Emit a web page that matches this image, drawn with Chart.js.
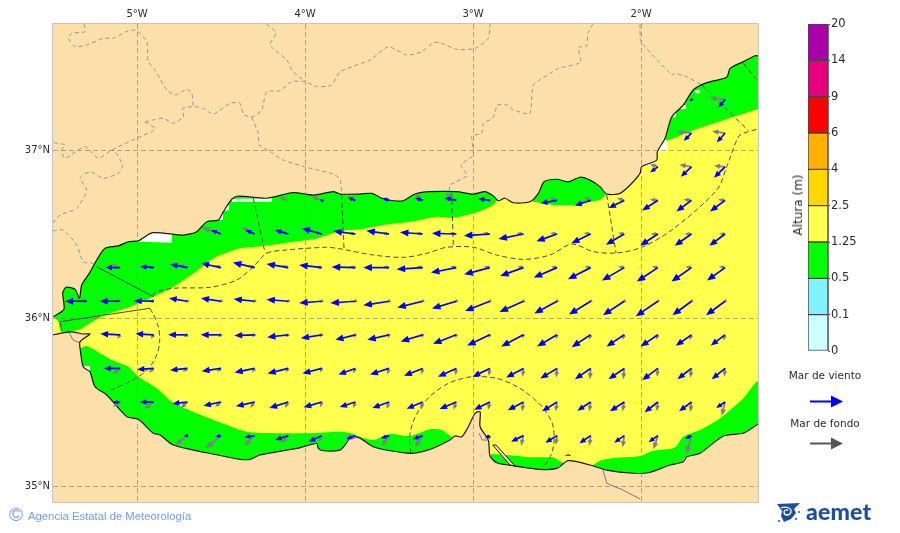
<!DOCTYPE html>
<html lang="es">
<head>
<meta charset="utf-8">
<title>Altura de ola</title>
<script src="https://cdn.jsdelivr.net/npm/chart.js@4"></script>
<style>
html,body{margin:0;padding:0;background:#fff;width:900px;height:533px;overflow:hidden}
canvas{position:absolute}
canvas,svg,.t{filter:blur(.3px)}
.t{position:absolute;font-family:"DejaVu Sans",sans-serif;color:#2b2b2b;white-space:nowrap}
</style>
</head>
<body>
<canvas id="map" width="900" height="533" style="left:0;top:0"></canvas>
<canvas id="bar" width="125" height="370" style="left:775px;top:0"></canvas>
<div class="t" id="alt" style="left:798px;top:205px;font-size:12px;transform:translate(-50%,-50%) rotate(-90deg)">Altura (m)</div>
<div class="t" style="left:825px;top:369px;font-size:10.5px;transform:translateX(-50%)">Mar de viento</div>
<div class="t" style="left:825px;top:417px;font-size:10.5px;transform:translateX(-50%)">Mar de fondo</div>
<svg style="position:absolute;left:805px;top:392px" width="42" height="60">
  <path d="M5 9.5H30" stroke="#0000ff" stroke-width="2"/><path d="M26 3.5L38 9.5L26 15.5Z" fill="#0000ff"/>
  <path d="M5 51.5H30" stroke="#555" stroke-width="2"/><path d="M26 45.5L38 51.5L26 57.5Z" fill="#555"/>
</svg>
<div class="t" style="left:9px;top:504px;font-family:'Liberation Sans';font-size:19px;color:#6f9fe6">©</div>
<div class="t" style="left:28px;top:510px;font-family:'Liberation Sans';font-size:11.3px;color:#6f9fe6">Agencia Estatal de Meteorología</div>
<svg style="position:absolute;left:776px;top:502px" width="28" height="22" viewBox="0 0 28 22">
  <path d="M1 2L24 1L18 7L20 11L15 17L8 20L5 14L6 9Z" fill="#1d4f9e"/>
  <path d="M5 6C10 4 16 6 15 10C14 14 8 14 8 10C8 8 11 7 12 9" stroke="#fff" stroke-width="1.3" fill="none"/>
  <circle cx="23" cy="10" r="1" fill="#1d4f9e"/><circle cx="20" cy="17" r="1" fill="#1d4f9e"/><circle cx="3" cy="19" r="1" fill="#1d4f9e"/>
</svg>
<div class="t" style="left:806px;top:497px;font-family:Lato,sans-serif;font-weight:900;font-size:23px;color:#1d4f9e;letter-spacing:.2px">aemet</div>

<script>
const lonTicks=[-5,-4,-3,-2];
const latTicks=[35,36,37];
const lonRange=[-5.5,-1.304];
const latRange=[34.905,37.75];

const coastNorth=[[-5.498,36.008],[-5.435,36.052],[-5.442,36.147],[-5.423,36.183],[-5.369,36.171],[-5.343,36.117],[-5.329,36.196],[-5.284,36.266],[-5.24,36.345],[-5.19,36.415],[-5.111,36.429],[-5.052,36.454],[-4.992,36.46],[-4.907,36.508],[-4.724,36.494],[-4.645,36.514],[-4.585,36.573],[-4.516,36.583],[-4.486,36.633],[-4.436,36.707],[-4.397,36.726],[-4.228,36.713],[-4.07,36.746],[-3.951,36.732],[-3.832,36.752],[-3.792,36.738],[-3.673,36.738],[-3.603,36.742],[-3.543,36.713],[-3.474,36.698],[-3.415,36.698],[-3.345,36.738],[-3.256,36.752],[-3.097,36.752],[-2.998,36.738],[-2.929,36.752],[-2.879,36.726],[-2.849,36.698],[-2.81,36.713],[-2.76,36.686],[-2.661,36.692],[-2.611,36.742],[-2.577,36.811],[-2.502,36.826],[-2.433,36.811],[-2.363,36.838],[-2.304,36.821],[-2.244,36.782],[-2.204,36.738],[-2.125,36.742],[-2.065,36.792],[-2.006,36.861],[-1.996,36.901],[-1.907,36.94],[-1.903,36.99],[-1.857,37.07],[-1.817,37.198],[-1.748,37.268],[-1.689,37.357],[-1.609,37.401],[-1.49,37.433],[-1.47,37.486],[-1.391,37.526],[-1.321,37.561],[-1.304,37.56]];
const northCorners=[[-1.304,37.75],[-5.5,37.75],[-5.5,36.012]];

const coastSouth=[[-5.5,35.899],[-5.458,35.909],[-5.389,35.918],[-5.32,35.905],[-5.28,35.905],[-5.339,35.859],[-5.339,35.82],[-5.32,35.71],[-5.28,35.68],[-5.25,35.591],[-5.18,35.542],[-5.061,35.413],[-4.992,35.397],[-4.903,35.314],[-4.863,35.304],[-4.784,35.244],[-4.585,35.198],[-4.387,35.159],[-4.327,35.159],[-4.268,35.185],[-4.049,35.224],[-3.93,35.254],[-3.921,35.224],[-3.891,35.21],[-3.792,35.214],[-3.762,35.244],[-3.732,35.284],[-3.683,35.29],[-3.593,35.234],[-3.494,35.21],[-3.365,35.195],[-3.256,35.218],[-3.137,35.274],[-3.107,35.298],[-3.067,35.293],[-3.028,35.353],[-2.988,35.433],[-2.958,35.442],[-2.958,35.353],[-2.909,35.274],[-2.899,35.179],[-2.859,35.139],[-2.75,35.119],[-2.601,35.099],[-2.502,35.105],[-2.433,35.151],[-2.304,35.125],[-2.204,35.095],[-2.046,35.076],[-1.957,35.079],[-1.827,35.125],[-1.748,35.145],[-1.728,35.174],[-1.649,35.195],[-1.51,35.298],[-1.391,35.314],[-1.321,35.357],[-1.304,35.369]];
const southCorners=[[-1.304,34.905],[-5.5,34.905],[-5.5,35.899]];
const spit=[[-2.883,35.244],[-2.863,35.244],[-2.75,35.119],[-2.78,35.125]];
const islet=[[-2.448,35.18],[-2.433,35.186],[-2.42,35.18]];

const greenNorth=[[-5.5,36.012],[-5.488,35.998],[-5.468,35.978],[-5.448,35.918],[-5.339,35.933],[-5.299,35.958],[-5.19,36.018],[-5.042,36.067],[-4.903,36.127],[-4.784,36.186],[-4.665,36.266],[-4.546,36.355],[-4.387,36.415],[-4.248,36.429],[-4.07,36.454],[-3.93,36.474],[-3.792,36.518],[-3.673,36.528],[-3.534,36.554],[-3.375,36.573],[-3.216,36.603],[-3.117,36.597],[-2.998,36.623],[-2.899,36.662],[-2.857,36.702],[-2.857,36.881],[-5.5,36.881]];
const greenBulge=[[-2.643,36.692],[-2.522,36.673],[-2.403,36.673],[-2.244,36.702],[-2.204,36.738],[-2.204,36.881],[-2.643,36.881]];
const greenNE=[[-1.304,37.244],[-1.451,37.198],[-1.689,37.119],[-1.847,37.054],[-1.946,37.179],[-1.649,37.595],[-1.304,37.595]];
const greenSW=[[-5.339,35.82],[-5.299,35.833],[-5.151,35.75],[-5.052,35.71],[-4.992,35.651],[-4.883,35.582],[-4.793,35.502],[-4.645,35.433],[-4.466,35.363],[-4.347,35.323],[-4.149,35.314],[-3.99,35.314],[-3.792,35.323],[-3.732,35.315],[-3.673,35.293],[-3.595,35.274],[-3.494,35.31],[-3.375,35.298],[-3.256,35.338],[-3.186,35.333],[-3.127,35.293],[-3.107,35.298],[-3.107,35.244],[-3.792,35.095],[-4.387,35.036],[-5.22,35.393],[-5.369,35.78]];
const greenBay=[[-2.893,35.19],[-2.78,35.183],[-2.661,35.171],[-2.522,35.171],[-2.462,35.135],[-2.433,35.151],[-2.433,35.065],[-2.899,35.065]];
const greenSE=[[-2.433,35.151],[-2.405,35.151],[-2.293,35.125],[-2.244,35.151],[-2.167,35.167],[-2.006,35.179],[-1.929,35.21],[-1.798,35.23],[-1.75,35.293],[-1.649,35.333],[-1.53,35.403],[-1.391,35.522],[-1.304,35.621],[-1.304,35.274],[-1.649,35.036],[-2.244,35.006],[-2.433,35.065]];

const noData1=[[-4.992,36.454],[-4.907,36.512],[-4.792,36.5],[-4.792,36.448]];
const noData2=[[-4.518,36.583],[-4.488,36.673],[-4.452,36.673],[-4.452,36.643],[-4.488,36.637],[-4.488,36.583]];
const noData3=[[-4.436,36.708],[-4.198,36.714],[-4.198,36.692],[-4.31,36.692],[-4.435,36.69]];
const noDataCells=[[-1.679,37.357,-1.649,37.338],[-1.768,37.268,-1.732,37.244],[-1.811,37.22,-1.792,37.195],[-1.887,37.06,-1.847,36.99],[-1.958,36.923,-1.929,36.905],[-2.012,36.893,-1.996,36.845],[-5.32,35.714,-5.28,35.686],[-1.75,35.167,-1.728,35.145]];

const zoneSolid1=[[-5.24,36.305],[-4.903,36.127]];
const zoneSolid2=[[-5.446,35.923],[-5.458,35.978],[-4.923,36.058]];
const zoneArc=[[-4.923,36.058],[-4.887,35.988],[-4.867,35.911],[-4.873,35.81],[-4.923,35.71],[-4.992,35.651],[-5.101,35.595],[-5.18,35.561]];
const zoneOffshore=[[-4.903,36.127],[-4.893,36.151],[-4.784,36.177],[-4.565,36.183],[-4.407,36.226],[-4.308,36.305],[-4.228,36.385],[-4.109,36.405],[-3.871,36.421],[-3.792,36.412],[-3.593,36.375],[-3.415,36.361],[-3.276,36.385],[-3.157,36.421],[-2.998,36.421],[-2.859,36.375],[-2.701,36.349],[-2.542,36.375],[-2.412,36.44],[-2.284,36.395],[-2.145,36.387],[-1.996,36.421],[-1.817,36.524],[-1.549,36.762],[-1.49,36.901],[-1.421,37.079],[-1.391,37.099],[-1.304,37.125]];
const zoneCross1=[[-4.308,36.714],[-4.244,36.415],[-4.228,36.385]];
const zoneCross2=[[-3.782,36.732],[-3.768,36.415]];
const zoneCross3=[[-3.128,36.75],[-3.117,36.421]];
const zoneCross4=[[-2.204,36.732],[-2.149,36.387]];
const zoneCross5=[[-1.639,37.387],[-1.361,37.115]];
const zoneCross6=[[-1.391,37.516],[-1.304,37.407]];
const zoneCircle=[[-3.371,35.195],[-3.375,35.314],[-3.315,35.462],[-3.196,35.582],[-3.058,35.641],[-2.939,35.651],[-2.799,35.621],[-2.641,35.522],[-2.542,35.403],[-2.518,35.304],[-2.532,35.195],[-2.585,35.105]];

const adminA=[[-5.314,37.75],[-5.31,37.704],[-5.389,37.695],[-5.409,37.665],[-5.369,37.615],[-5.299,37.625],[-5.201,37.665],[-5.141,37.665],[-5.052,37.71],[-5.002,37.71],[-4.942,37.645],[-4.933,37.526],[-4.893,37.476],[-4.823,37.357],[-4.774,37.327],[-4.704,37.361],[-4.674,37.338],[-4.665,37.258]];
const adminB=[[-4.952,37.168],[-4.903,37.179],[-4.843,37.189],[-4.784,37.159],[-4.724,37.198],[-4.728,37.248],[-4.655,37.258],[-4.605,37.248],[-4.546,37.213],[-4.446,37.278],[-4.387,37.278],[-4.367,37.214],[-4.317,37.195],[-4.258,37.238],[-4.228,37.347],[-4.149,37.353],[-4.079,37.407],[-4,37.407],[-3.93,37.377],[-3.841,37.387],[-3.792,37.466],[-3.613,37.536],[-3.504,37.615],[-3.395,37.565],[-3.305,37.585],[-3.236,37.639],[-3.196,37.639],[-3.097,37.599],[-2.988,37.605],[-2.909,37.665],[-2.899,37.75]];
const adminC=[[-4.952,37.168],[-4.893,37.129],[-4.913,37.109],[-5.002,37.07],[-5.151,37],[-5.23,36.951],[-5.31,37.02],[-5.429,36.951],[-5.448,37],[-5.429,37.03],[-5.488,37.043],[-5.5,37.042]];
const adminD=[[-5.5,36.565],[-5.458,36.613],[-5.359,36.653],[-5.299,36.762],[-5.339,36.832],[-5.28,36.871],[-5.201,36.832],[-5.111,36.861],[-5.085,36.911],[-5.131,36.99],[-5.151,37]];
const adminE=[[-5.5,36.518],[-5.439,36.524],[-5.359,36.435],[-5.32,36.335],[-5.26,36.326]];
const adminF=[[-4.228,37.75],[-4.173,37.698],[-4.208,37.625],[-4.109,37.536],[-4.079,37.476],[-4,37.407]];
const adminG=[[-4.317,37.195],[-4.278,37.099],[-4.272,37.03],[-4.208,36.99],[-4.129,36.94],[-3.99,36.897],[-3.832,36.857],[-3.792,36.827],[-3.782,36.744]];
const adminH=[[-2.287,37.75],[-2.317,37.695],[-2.323,37.619],[-2.373,37.611],[-2.359,37.52],[-2.492,37.486],[-2.641,37.387],[-2.661,37.214],[-2.76,37.238],[-2.796,37.268],[-2.855,37.268],[-2.883,37.189],[-2.939,37.159],[-2.948,37.099],[-3.008,37.083],[-2.998,36.97],[-3.073,36.911],[-3.034,36.847],[-3.137,36.792],[-3.141,36.752]];
const adminI=[[-2.006,37.75],[-2.002,37.645],[-1.817,37.446],[-1.798,37.457],[-1.728,37.436],[-1.639,37.387]];
const borderJ=[[-5.411,35.929],[-5.381,35.869],[-5.339,35.851]];
const borderK=[[-2.964,35.315],[-2.946,35.274],[-2.911,35.274]];
const borderL=[[-2.226,35.095],[-2.204,35.016],[-2.107,34.976],[-2.006,34.923]];

const waveLons=[-5.3,-5.1,-4.9,-4.7,-4.5,-4.3,-4.1,-3.9,-3.7,-3.5,-3.3,-3.1,-2.9,-2.7,-2.5,-2.3,-2.1,-1.9,-1.7,-1.5];
const waveLats=[37.3,37.1,36.9,36.7,36.5,36.3,36.1,35.9,35.7,35.5,35.3];
const N=null;
const windU=[
[N,N,N,N,N,N,N,N,N,N,N,N,N,N,N,N,N,N,-2,-6.7],
[N,N,N,N,N,N,N,N,N,N,N,N,N,N,N,N,N,N,-7.7,-8.3],
[N,N,N,N,N,N,N,N,N,N,N,N,N,N,N,N,N,-7.7,-10.7,-11],
[N,N,N,N,N,N,N,-2,-8,-6.7,-7.7,-12,-11.7,N,-16.7,-16,-15.7,-15.7,-15,-15],
[N,N,N,N,-10,-9,-13.3,-20,-22,-22.7,-22.7,-24.3,-26,-25,-20.7,-19.3,-18.3,-17.7,-16.7,-15.7],
[N,-15,-14,-17.3,-20,-21.7,-21.7,-22.7,-23.7,-25.7,-26,-25.3,-25.7,-23.3,-23.3,-22.7,-22.3,-21,-20,-18],
[-21.7,-20.7,-20,-18.3,-20,-21,-21.7,-22.7,-25,-25.7,-25.3,-24.3,-24.7,-24,-22.7,-21.7,-21.3,-22,-19,-19],
[N,-20,-18.3,-19.3,-20.3,-20.3,-21,-21,-20,-21.7,-22,-23.3,-22.7,-22.3,-20,-19,-17.7,-17.3,-15.7,-14.3],
[N,-16.7,-16.7,-17.3,-19.3,-20,-20.7,-19.3,-17,-19,-18.7,-18.3,-17.3,-17.3,-16.7,-15.7,-15.7,-15.7,-14,-13.3],
[N,-7.3,-14,-15,-17.7,-18.7,-19,-18.3,-15.7,-16.7,-16,-16.7,-15.7,-15.7,-15,-13.3,-14.3,-13.3,-12.3,-9],
[N,N,N,-4,-6,-10.3,-13.3,-13.3,-9.7,-8.3,-10,N,-5,-12.3,-11.7,-11.3,-10,-9.3,-6.7,N]
];
const windV=[
[N,N,N,N,N,N,N,N,N,N,N,N,N,N,N,N,N,N,-2,-8],
[N,N,N,N,N,N,N,N,N,N,N,N,N,N,N,N,N,N,-7.7,-9.3],
[N,N,N,N,N,N,N,N,N,N,N,N,N,N,N,N,N,-5.7,-10,-11],
[N,N,N,N,N,N,N,1,3.3,2.3,2.3,2.3,1.7,N,-2.7,-5,-7.7,-10,-11,-11],
[N,N,N,N,4,4,4,5.7,3,3.3,1.7,.7,-1.7,-5,-7.3,-9.3,-10.7,-11.7,-11.7,-11.7],
[N,0,1,3.3,4.3,5,3.7,2.7,.7,0,-1.7,-5,-6.7,-8.3,-10,-11.7,-13,-14,-14,-13],
[0,0,.3,3,3,2.3,1.7,-1.7,-1.7,-4,-6.3,-7.3,-9.7,-10.7,-12.3,-13.3,-14,-15,-14,-14],
[N,1,1,0,0,-.7,-2.3,-3.3,-5,-5,-6.7,-9,-10.7,-11.7,-11.7,-12.3,-11.7,-11.7,-11,-10.7],
[N,0,-1,-1.7,-2.7,-4,-5,-5,-6,-6,-7.3,-8.3,-8.3,-9,-10,-10.7,-10.7,-11.7,-10.7,-10.7],
[N,0,0,-1.7,-3.7,-4.3,-6,-5.3,-5,-6,-6.7,-7,-7.7,-8.3,-9.3,-8.7,-9.3,-10.3,-9.3,-6],
[N,N,N,0,-1,-1.7,-4.3,-6,-3.3,-2.7,-3.7,N,-2.7,-6,-7,-7.7,-7,-6.7,-3.3,N]
];
const swellU=[
[N,N,N,N,N,N,N,N,N,N,N,N,N,N,N,N,N,N,N,-15.7],
[N,N,N,N,N,N,N,N,N,N,N,N,N,N,N,N,N,N,-15,-13],
[N,N,N,N,N,N,N,N,N,N,N,N,N,N,N,N,N,-8,-12,-11],
[N,N,N,N,N,N,-9,-10,-6,-4,-7.7,-11,-3,N,-7.3,-6.7,-7,-8,-8,-7],
[N,N,N,N,-19.3,-13,-8,-8,-7,-7,-7,-7,-7,-7,-7,-7,-6,-7,-7,-6],
[N,-10,-6,-9,-6,-6,-6,-6,-6,-6,-6,-6,-6,-6,-6,-6,-6,-6,-6,-6],
[-6,-6,-5,-2,-2,-2,-2,-2,-2,-2,-2,-2,-2,-2,-2,-2,-2,-2,-2,-2],
[N,-3,-3.3,-3.3,-2.7,-2.5,-2.7,-2,-1.5,-.7,-.7,-.7,-1,-1,-1.2,-1.5,-1.7,-1.7,-1.7,-1.7],
[N,-7.3,-5,-5,-4.3,-2.7,-2.7,-1.7,-2.3,-1.7,-1,-.7,-1,-.7,-.7,-.7,-1,-.7,-1,-.7],
[N,-7.3,-9.3,-6.7,-6,-4.3,-3.3,-1.7,-2.3,-2.3,-1.7,-2.7,-1.7,-1.3,-1.3,-1.3,-1.7,-1,-1,-3.3],
[N,N,N,-12.3,-15.3,-10.3,-6.7,-3.3,-4,-7.3,-7.7,N,-2,-2.3,-1.3,-1.3,-1.7,-4.3,-5,N]
];
const swellV=[
[N,N,N,N,N,N,N,N,N,N,N,N,N,N,N,N,N,N,N,1.7],
[N,N,N,N,N,N,N,N,N,N,N,N,N,N,N,N,N,N,1.7,2],
[N,N,N,N,N,N,N,N,N,N,N,N,N,N,N,N,N,2.5,2,1],
[N,N,N,N,N,N,3.3,4,2,2,6.7,7.3,1,N,3.3,3.3,2.3,1,1,1],
[N,N,N,N,6.7,6.7,3,2,1,1,1,1,1,1,1,1,1,0,0,0],
[N,3,1,3,2,2,2,1,1,1,1,1,1,1,1,1,1,1,1,1],
[1,1,0,-1.5,-1.5,-1.5,-1.5,-1.5,-1.5,-1.5,-1.5,-1.5,-1.5,-1.5,-1.5,-1.5,-1.5,-1.5,-1.5,-1.5],
[N,-4,-4,-2.3,-2.3,-2.3,-2.3,-2.3,-3,-3.3,-3.3,-3.5,-3.5,-4,-4.5,-5,-5,-5,-5.5,-5.7],
[N,-5.7,-4,-3.3,-3.3,-4.3,-4,-4,-5,-6,-6,-6.7,-7.3,-8.3,-9,-10.7,-10.7,-8.3,-9.3,-8.3],
[N,-4.7,-6.7,-6,-5,-6,-6,-5.3,-6,-7,-7.7,-7.7,-7.7,-9.3,-9.3,-9.3,-9.3,-9.3,-10,-13.7],
[N,N,N,-9.3,-12.7,-10,-7.7,-6,-4,-10.3,-11.7,N,-5,-10,-9.3,-10,-11.7,-13.7,-18.3,N]
];

const levels=['0','0.1','0.5','1.25','2.5','4','6','9','14','20'];
const bandColors=['#ccffff','#80f3ff','#00ff00','#ffff4d','#ffd700','#ffb000','#ff0000','#e6007e','#aa00aa'];

const LAND='#fcdfa9',SEA='#ffff4d',GREEN='#00ff00',WHITE='#ffffff';
const pts=a=>a.map(p=>({x:p[0],y:p[1]}));
const poly=(a,color,tension)=>({data:pts(a),showLine:true,fill:'shape',backgroundColor:color,borderWidth:0,pointRadius:0,tension:tension||0});
const line=(a,color,width,dash,tension)=>({data:pts(a),showLine:true,fill:false,borderColor:color,borderWidth:width,borderDash:dash||[],pointRadius:0,tension:tension||0});
const cell=c=>[[c[0],c[1]],[c[2],c[1]],[c[2],c[3]],[c[0],c[3]]];
function arrowSet(U,V,kind){
  const data=[];
  waveLats.forEach((lat,r)=>waveLons.forEach((lon,c)=>{
    if(U[r][c]!==null) data.push({x:lon,y:lat,u:U[r][c],v:V[r][c]});
  }));
  return {data,pointRadius:0,showLine:false,arrowKind:kind};
}
const ADMIN='#9492a6',ZONE='#4a4a4a',Z=[5,3],A=[4,3],COAST='#1a1a1a',SOFT=.25;
const layers=[
  poly(greenNorth,GREEN,SOFT),poly(greenBulge,GREEN),poly(greenNE,GREEN),poly(greenSW,GREEN,SOFT),poly(greenBay,GREEN),poly(greenSE,GREEN,SOFT),
  poly(noData1,WHITE),poly(noData2,WHITE),poly(noData3,WHITE),
  ...noDataCells.map(c=>poly(cell(c),WHITE)),
  poly(coastNorth.concat(northCorners),LAND,SOFT),
  poly(coastSouth.concat(southCorners),LAND,SOFT),
  poly(spit,LAND),
  line(adminA,ADMIN,1,A,.2),line(adminB,ADMIN,1,A,.2),line(adminC,ADMIN,1,A,.2),line(adminD,ADMIN,1,A,.2),line(adminE,ADMIN,1,A,.2),
  line(adminF,ADMIN,1,A,.2),line(adminG,ADMIN,1,A,.2),line(adminH,ADMIN,1,A,.1),line(adminI,ADMIN,1,A,.1),
  line(borderJ,'#777a8a',1),line(borderK,'#777a8a',1),line(borderL,'#777a8a',1),
  line(zoneSolid1,ZONE,1),line(zoneSolid2,ZONE,1),
  line(zoneArc,ZONE,1,Z,.4),line(zoneOffshore,ZONE,1,Z,.3),
  line(zoneCross1,ZONE,1,Z),line(zoneCross2,ZONE,1,Z),line(zoneCross3,ZONE,1,Z),line(zoneCross4,ZONE,1,Z),line(zoneCross5,ZONE,1,Z),line(zoneCross6,ZONE,1,Z),
  line(zoneCircle,ZONE,1,Z,.4),
  line(coastNorth,COAST,1.2,[],SOFT),line(coastSouth,COAST,1.2,[],SOFT),line(spit.concat([spit[0]]),COAST,1),line(islet,COAST,1.2),
  arrowSet(swellU,swellV,'swell'),arrowSet(windU,windV,'wind')
];
layers.forEach((d,i)=>{d.order=layers.length-i;});

function drawArrow(ctx,x,y,u,v,color){
  const dx=u,dy=-v,L=Math.hypot(dx,dy);
  if(!L) return;
  const ux=dx/L,uy=dy/L,hl=Math.min(8.5,3.5+L*.22),hw=hl*.42;
  const ex=x+dx,ey=y+dy;
  ctx.strokeStyle=color;ctx.fillStyle=color;ctx.lineWidth=1.7;
  ctx.beginPath();ctx.moveTo(x,y);ctx.lineTo(ex-ux*hl*.7,ey-uy*hl*.7);ctx.stroke();
  ctx.beginPath();ctx.moveTo(ex,ey);
  ctx.lineTo(ex-ux*hl-uy*hw,ey-uy*hl+ux*hw);
  ctx.lineTo(ex-ux*hl+uy*hw,ey-uy*hl-ux*hw);
  ctx.closePath();ctx.fill();
}
const mapPlugin={
  id:'mapPlugin',
  beforeDatasetsDraw(c){
    const a=c.chartArea,g=c.ctx;
    g.save();g.fillStyle=SEA;g.fillRect(a.left,a.top,a.width,a.height);g.restore();
  },
  afterDraw(c){
    const a=c.chartArea,g=c.ctx;
    g.save();
    g.beginPath();g.rect(a.left,a.top,a.width,a.height);g.clip();
    c.data.datasets.forEach((d,i)=>{
      if(!d.arrowKind) return;
      const col=d.arrowKind==='wind'?'#0000ff':'#7f7f7f';
      c.getDatasetMeta(i).data.forEach((el,k)=>drawArrow(g,el.x,el.y,d.data[k].u,d.data[k].v,col));
    });
    g.restore();
    g.save();g.strokeStyle='#c4c4c4';g.lineWidth=1;
    g.strokeRect(a.left-.5,a.top-.5,a.width+1,a.height+1);g.restore();
  }
};
const GRID='rgba(120,120,120,.6)';
new Chart(document.getElementById('map'),{
  type:'scatter',
  data:{datasets:layers},
  plugins:[mapPlugin],
  options:{
    responsive:false,animation:false,events:[],
    layout:{padding:{left:0,top:0,right:142,bottom:31}},
    plugins:{legend:{display:false},tooltip:{enabled:false}},
    scales:{
      x:{type:'linear',position:'top',min:lonRange[0],max:lonRange[1],
        afterBuildTicks(s){s.ticks=lonTicks.map(v=>({value:v}));},
        afterFit(s){s.height=24;},
        grid:{z:1,color:GRID,lineWidth:1,drawTicks:false},
        border:{display:false,dash:[5,3]},
        ticks:{padding:4,color:'#2b2b2b',font:{family:'DejaVu Sans',size:10},autoSkip:false,maxRotation:0,callback:v=>Math.abs(v)+'°W'}},
      y:{type:'linear',position:'left',min:latRange[0],max:latRange[1],
        afterBuildTicks(s){s.ticks=latTicks.map(v=>({value:v}));},
        afterFit(s){s.width=53;},
        grid:{z:1,color:GRID,lineWidth:1,drawTicks:false},
        border:{display:false,dash:[5,3]},
        ticks:{padding:3,color:'#2b2b2b',font:{family:'DejaVu Sans',size:10},autoSkip:false,callback:v=>v+'°N'}}
    }
  }
});
new Chart(document.getElementById('bar'),{
  type:'bar',
  data:{labels:[''],datasets:bandColors.map((col,i)=>({data:[[i,i+1]],backgroundColor:col,borderColor:'#444',borderWidth:1,borderSkipped:false,barPercentage:1,categoryPercentage:1,grouped:false}))},
  options:{
    responsive:false,animation:false,events:[],
    layout:{padding:{left:33,top:24,right:0,bottom:19}},
    plugins:{legend:{display:false},tooltip:{enabled:false}},
    scales:{
      x:{display:false},
      y:{position:'right',min:0,max:levels.length-1,
        afterFit(s){s.width=72;},
        grid:{drawOnChartArea:false,tickLength:2,tickColor:'#333'},
        border:{color:'#777'},
        ticks:{stepSize:1,padding:1,color:'#2b2b2b',font:{family:'DejaVu Sans',size:11.5},autoSkip:false,callback:v=>levels[v]}}
    }
  }
});
</script>
</body>
</html>
